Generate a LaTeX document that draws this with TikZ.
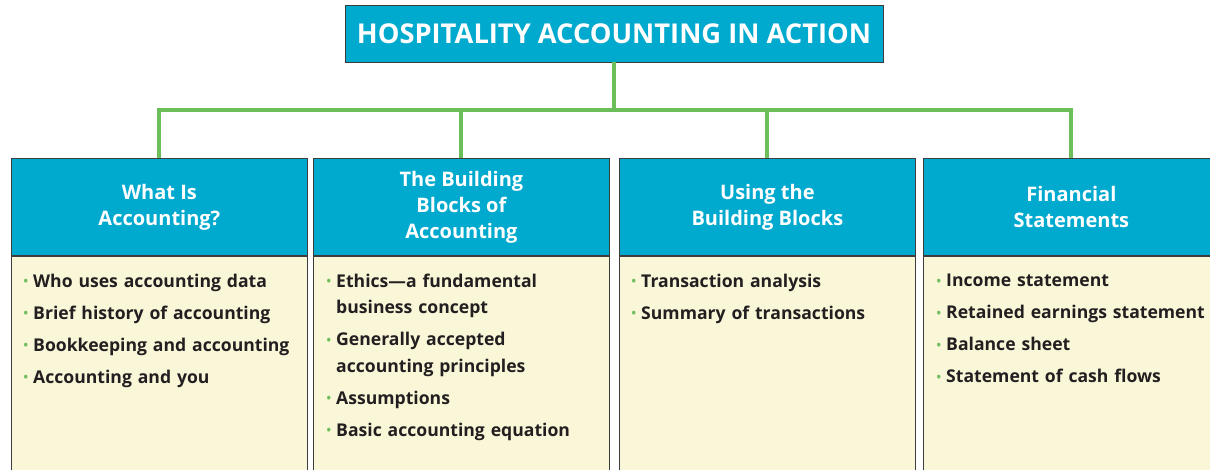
\documentclass[tikz,border=0pt]{standalone}
\usepackage{fontspec}
\setmainfont{Open Sans}
\usepackage{tikz}
\usetikzlibrary{positioning}

\definecolor{headblue}{RGB}{0, 169, 206}
\definecolor{bodycream}{RGB}{250, 246, 216}
\definecolor{linegreen}{RGB}{108, 190, 90}
\definecolor{framegray}{RGB}{60, 60, 60}
\definecolor{textdark}{RGB}{35, 31, 32}

\newcommand{\itm}{\leavevmode\llap{\textcolor{linegreen}{\raisebox{1.5pt}{\fontsize{12}{12}\selectfont\textbullet}}\hspace{5pt}}}

\tikzset{
  titlebox/.style={draw=framegray, fill=headblue, text=white, line width=0.8pt,
    font=\fontsize{27.3}{30}\selectfont\bfseries, minimum width=538pt, minimum height=57pt, inner sep=0pt},
  headbox/.style={draw=framegray, fill=headblue, text=white, line width=0.8pt, align=center,
    font=\fontsize{20}{26}\selectfont\bfseries, minimum width=296pt, minimum height=97pt,
    inner sep=0pt, anchor=north west},
  bodybox/.style={draw=framegray, fill=bodycream, line width=0.8pt, minimum width=296pt,
    minimum height=240pt, inner sep=0pt, anchor=north},
  itemlist/.style={anchor=north west, text=textdark, align=left, text width=280pt, inner sep=0pt,
    font=\fontsize{17.6}{26.5}\selectfont\bfseries},
  link/.style={draw=linegreen, line width=4pt}
}

\begin{document}
\begin{tikzpicture}[x=1pt, y=-1pt]
  \useasboundingbox (0,0) rectangle (1210,469);
  \clip (0,0) rectangle (1210,469);

  % Title
  \node[titlebox] (title) at (614,33.5) {HOSPITALITY ACCOUNTING IN ACTION};
  \coordinate (bar) at (614,110);

  % Connectors
  \draw[link] (title.south) -- (bar);
  \draw[link] (bar) -| (158.5,158);
  \draw[link] (bar) -| (461,158);
  \draw[link] (bar) -| (767,158);
  \draw[link] (bar) -| (1071,158);

  % Headers
  \node[headbox] (h1) at (11,158) {What Is\\Accounting?};
  \node[headbox] (h2) at (313,158) {The Building\\Blocks of\\Accounting};
  \node[headbox] (h3) at (619,158) {Using the\\Building Blocks};
  \node[headbox] (h4) at (923,158) {Financial\\Statements};

  % Bodies
  \node[bodybox] (b1) at (h1.south) {};
  \node[bodybox] (b2) at (h2.south) {};
  \node[bodybox] (b3) at (h3.south) {};
  \node[bodybox] (b4) at (h4.south) {};

  % Items
  \node[itemlist] (l1) at ([xshift=22pt, yshift=-18pt]b1.north west) {%
    \itm Who uses accounting data\\[5.5pt]
    \itm Brief history of accounting\\[5.5pt]
    \itm Bookkeeping and accounting\\[5.5pt]
    \itm Accounting and you};
  \node[itemlist] (l2) at ([xshift=23pt, yshift=-18pt]b2.north west) {%
    \itm Ethics---a fundamental\\
    business concept\\[5.5pt]
    \itm Generally accepted\\
    accounting principles\\[5.5pt]
    \itm Assumptions\\[5.5pt]
    \itm Basic accounting equation};
  \node[itemlist] (l3) at ([xshift=22pt, yshift=-18pt]b3.north west) {%
    \itm Transaction analysis\\[5.5pt]
    \itm Summary of transactions};
  \node[itemlist] (l4) at ([xshift=23pt, yshift=-18pt]b4.north west) {%
    \itm Income statement\\[5.5pt]
    \itm Retained earnings statement\\[5.5pt]
    \itm Balance sheet\\[5.5pt]
    \itm Statement of cash flows};
\end{tikzpicture}
\end{document}
